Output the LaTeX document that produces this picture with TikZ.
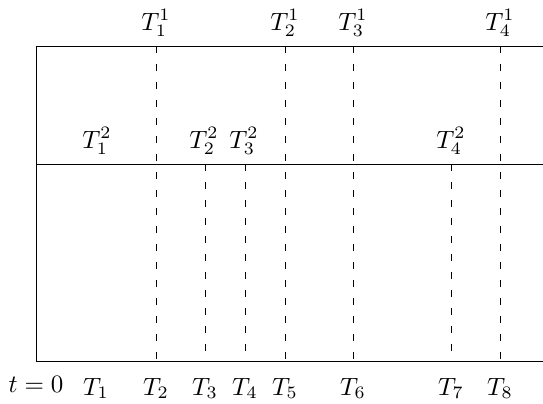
\documentclass[tikz,border=0pt]{standalone}
\begin{document}
\begin{tikzpicture}[x=0.4pt,y=-0.4pt,
  frame/.style={line width=0.4pt},
  tick/.style={line width=0.32pt,dash pattern=on 2.9pt off 4.3pt},
  lbl/.style={anchor=base,inner sep=0pt,outer sep=0pt}]
\useasboundingbox (0,0) rectangle (543,403);
% frame coordinates
\coordinate (tl) at (37,46);
\coordinate (tr) at (543,46);
\coordinate (ml) at (37,164);
\coordinate (mr) at (543,164);
\coordinate (bl) at (37,361);
\coordinate (br) at (543,361);
\draw[frame] (tr) -- (tl) -- (bl) -- (br);
\draw[frame] (ml) -- (mr);
% vertical event lines
\foreach \n/\x/\y in {2/156/46, 3/205/164, 4/245/164, 5/285/46, 6/353/46, 7/451/164, 8/500/46}{
  \coordinate (u\n) at (\x,\y);
  \coordinate (d\n) at (\x,361);
  \draw[tick] (u\n) -- (d\n);
}
% top labels
\node[lbl] (a1) at (156,30) {$T^1_1$};
\node[lbl] (a2) at (285,30) {$T^1_2$};
\node[lbl] (a3) at (353,30) {$T^1_3$};
\node[lbl] (a4) at (500,30) {$T^1_4$};
% middle labels
\node[lbl] (b1) at (97,148) {$T^2_1$};
\node[lbl] (b2) at (204,148) {$T^2_2$};
\node[lbl] (b3) at (244,148) {$T^2_3$};
\node[lbl] (b4) at (451,148) {$T^2_4$};
% bottom labels
\node[lbl] (t0) at (36,392) {$t=0$};
\node[lbl] (c1) at (96,395) {$T_1$};
\node[lbl] (c2) at (156,395) {$T_2$};
\node[lbl] (c3) at (205,395) {$T_3$};
\node[lbl] (c4) at (245,395) {$T_4$};
\node[lbl] (c5) at (285,395) {$T_5$};
\node[lbl] (c6) at (353,395) {$T_6$};
\node[lbl] (c7) at (451,395) {$T_7$};
\node[lbl] (c8) at (500,395) {$T_8$};
\end{tikzpicture}
\end{document}
